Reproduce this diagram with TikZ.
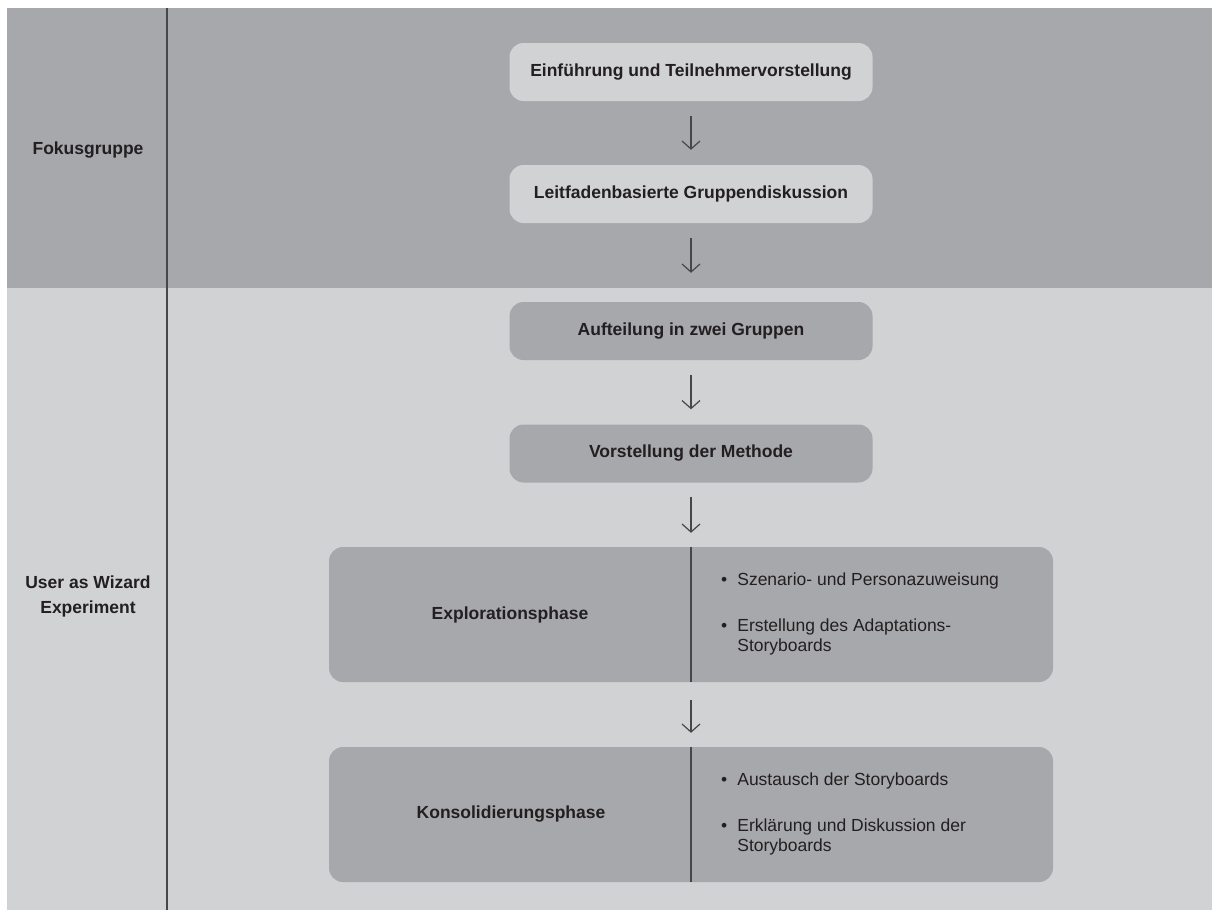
\documentclass[tikz,border=0pt]{standalone}
\usepackage{fontspec}
\setmainfont{Liberation Sans}
\usetikzlibrary{arrows.meta}
\definecolor{bandd}{HTML}{A7A8AB}
\definecolor{bandl}{HTML}{D1D2D4}
\definecolor{ink}{HTML}{231F20}
\definecolor{rulec}{HTML}{474747}
\begin{document}
\begin{tikzpicture}[x=1pt,y=-1pt,
  stepbox/.style={rounded corners=14pt, minimum width=363pt, minimum height=58pt,
    font=\bfseries\fontsize{17.5}{20}\selectfont, text=ink, inner sep=0pt},
  phasebox/.style={rounded corners=14pt, fill=bandd, minimum width=724pt,
    minimum height=135pt, inner sep=0pt},
  lab/.style={font=\bfseries\fontsize{17.5}{25}\selectfont, text=ink, align=center, inner sep=0pt},
  bul/.style={font=\fontsize{17.5}{20}\selectfont, text=ink, anchor=west, inner sep=0pt},
  flow/.style={draw=rulec, line width=1.2pt, -{Straight Barb[length=8pt,width=18pt,line width=1.2pt]},
    shorten <=15pt, shorten >=15pt},
  divider/.style={draw=rulec, line width=2pt}
]
\useasboundingbox (0,0) rectangle (1212,910);
\fill[white] (0,0) rectangle (1212,910);
\fill[bandd] (7,8) rectangle (1212,288);
\fill[bandl] (7,288) rectangle (1212,910);
\coordinate (vt) at (167,8);
\coordinate (vb) at (167,910);
\draw[divider] (vt) -- (vb);

\node[lab] (fg) at (88,150) {Fokusgruppe};
\node[lab] (uw) at (88,596) {User as Wizard\\Experiment};

\node[stepbox, fill=bandl] (b1) at (691,72) {Einführung und Teilnehmervorstellung};
\node[stepbox, fill=bandl] (b2) at (691,194) {Leitfadenbasierte Gruppendiskussion};
\node[stepbox, fill=bandd] (b3) at (691,331) {Aufteilung in zwei Gruppen};
\node[stepbox, fill=bandd] (b4) at (691,453.5) {Vorstellung der Methode};

\node[phasebox] (e5) at (691,614.5) {};
\node[phasebox] (e6) at (691,814.5) {};
\draw[divider] (e5.north) -- (e5.south);
\draw[divider] (e6.north) -- (e6.south);

\node[lab] (e5l) at (510,615) {Explorationsphase};
\node[lab] (e6l) at (511,814) {Konsolidierungsphase};

\node[bul] (e5r) at (721,614) {\begin{tabular}{@{}l@{\hspace{10pt}}l@{}}
\textbullet & Szenario- und Personazuweisung\\[26pt]
\textbullet & Erstellung des Adaptations-\\
 & Storyboards\end{tabular}};
\node[bul] (e6r) at (721,814) {\begin{tabular}{@{}l@{\hspace{10pt}}l@{}}
\textbullet & Austausch der Storyboards\\[26pt]
\textbullet & Erklärung und Diskussion der\\
 & Storyboards\end{tabular}};

\draw[flow] (b1) -- (b2);
\draw[flow, shorten >=29pt] (b2) -- (b3);
\draw[flow] (b3) -- (b4);
\draw[flow, shorten >=14pt, shorten <=14pt] (b4) -- (e5);
\draw[flow, shorten <=18pt, shorten >=14pt] (e5) -- (e6);
\end{tikzpicture}
\end{document}
